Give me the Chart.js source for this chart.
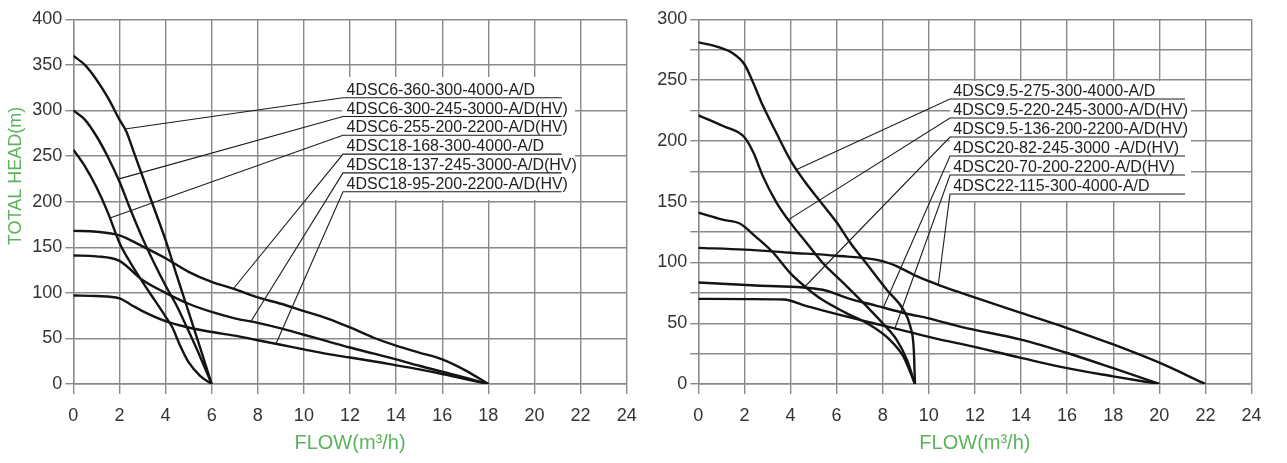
<!DOCTYPE html>
<html>
<head>
<meta charset="utf-8">
<script src="https://cdn.jsdelivr.net/npm/chart.js@4.4.1/dist/chart.umd.min.js"></script>
<style>
  html, body { margin: 0; padding: 0; background: #fff; }
  body { width: 1287px; height: 463px; position: relative; overflow: hidden; }
  .panel { position: absolute; top: 0; height: 463px; }
  #leftPanel { left: 0; width: 640px; }
  #rightPanel { left: 640px; width: 647px; }
</style>
</head>
<body>
<div class="panel" id="leftPanel"><canvas id="leftChart"></canvas></div>
<div class="panel" id="rightPanel"><canvas id="rightChart"></canvas></div>
<script>
// ---- data ----
const flowTicks = [0, 2, 4, 6, 8, 10, 12, 14, 16, 18, 20, 22, 24];
const leftHeadTicks = [0, 50, 100, 150, 200, 250, 300, 350, 400];
const rightHeadTicks = [0, 50, 100, 150, 200, 250, 300];

// left sheet: 4DSC6 / 4DSC18
const leftModels = [
    '4DSC6-360-300-4000-A/D',
    '4DSC6-300-245-3000-A/D(HV)',
    '4DSC6-255-200-2200-A/D(HV)',
    '4DSC18-168-300-4000-A/D',
    '4DSC18-137-245-3000-A/D(HV)',
    '4DSC18-95-200-2200-A/D(HV)'
];
const dsc6_360_q = [0, 0.5, 1, 1.5, 2, 2.3, 2.6, 3, 3.5, 4, 4.5, 5, 5.5, 6];
const dsc6_360_h = [360, 350, 334, 314, 290, 277, 256, 228, 193, 158, 118, 79, 40, 0];
const dsc6_300_q = [0, 0.5, 1, 1.5, 2, 2.5, 3, 3.5, 4, 4.5, 5, 5.5, 6];
const dsc6_300_h = [300, 290, 272, 249, 222, 190, 160, 133, 108, 85, 58, 30, 0];
const dsc6_255_q = [0, 0.5, 1, 1.5, 2, 2.5, 3, 3.5, 4, 4.3, 4.6, 5, 5.5, 6];
const dsc6_255_h = [257, 239, 216, 188, 155, 132, 112, 93, 74, 62, 44, 24, 9, 0];
const dsc18_168_q = [0, 1, 2, 3, 4, 5, 6, 7, 8, 9, 10, 11, 12, 13, 14, 15, 16, 17, 18];
const dsc18_168_h = [168, 167, 163, 151, 138, 123, 112, 104, 95, 88, 80, 72, 62, 51, 42, 34.5, 27, 15, 0];
const dsc18_137_q = [0, 1, 2, 3, 4, 5, 6, 7, 8, 9, 10, 11, 12, 13, 14, 15, 16, 17, 18];
const dsc18_137_h = [141, 140, 135, 114, 100, 88, 79, 72, 67, 61, 54, 47, 40, 33.5, 27, 20, 13.5, 7, 0];
const dsc18_95_q = [0, 1, 2, 2.5, 3, 4, 5, 6, 7, 8, 9, 10, 11, 12, 13, 14, 15, 16, 17, 18];
const dsc18_95_h = [97, 96.5, 94, 87, 80, 69, 62, 57, 53, 48, 43, 38, 33, 29, 25, 20.5, 16, 11, 5.5, 0];
const leftLeaderFlow = [2.24, 1.95, 1.59, 6.94, 7.7, 8.79];

// right sheet: 4DSC9.5 / 4DSC20 / 4DSC22
const rightModels = [
    '4DSC9.5-275-300-4000-A/D',
    '4DSC9.5-220-245-3000-A/D(HV)',
    '4DSC9.5-136-200-2200-A/D(HV)',
    '4DSC20-82-245-3000 -A/D(HV)',
    '4DSC20-70-200-2200-A/D(HV)',
    '4DSC22-115-300-4000-A/D'
];
const dsc95_275_q = [0, 0.8, 1.5, 2, 2.4, 2.8, 3.4, 4, 4.6, 5.3, 6, 6.6, 7.3, 8.2, 8.9, 9.2, 9.35, 9.4];
const dsc95_275_h = [281, 277.5, 272, 263, 247, 229, 206, 184, 167, 150, 133, 116, 99, 77, 61, 47, 28, 0];
const dsc95_220_q = [0, 1.1, 2, 2.4, 2.8, 3.4, 3.9, 4.7, 5.4, 6.3, 7.3, 8, 8.6, 9.05, 9.4];
const dsc95_220_h = [221, 212, 203, 190, 171, 149, 135, 116, 99.5, 83, 64, 50, 36.5, 20, 0];
const dsc95_136_q = [0, 1.1, 1.8, 2.5, 3.25, 4, 4.7, 5.4, 6.4, 7.45, 8.3, 8.9, 9.4];
const dsc95_136_h = [141, 135, 132, 121, 108, 91, 79, 69, 58.5, 48.5, 36.5, 22.5, 0];
const dsc20_82_q = [0, 2.5, 5.4, 6.5, 7.7, 9, 10, 11.4, 14, 16, 18, 20];
const dsc20_82_h = [83.5, 81, 77.5, 70.5, 64.5, 58, 54, 47, 36.5, 25.5, 13, 0];
const dsc20_70_q = [0, 3.7, 4.7, 6.1, 7.6, 9, 10.5, 11.4, 14, 16, 18, 20];
const dsc20_70_h = [70, 69.5, 64, 57, 50, 43.5, 36.5, 33, 21.5, 13, 6.3, 0];
const dsc22_115_q = [0, 2, 4, 6, 7.9, 8.6, 9.5, 10.5, 11.4, 14, 16, 18, 20, 22];
const dsc22_115_h = [112, 110.5, 108, 105.5, 101.5, 97, 88.5, 81, 75, 58.5, 46, 32.5, 17.5, 0];
const rightLeaderFlow = [4.27, 3.9, 4.63, 8.03, 8.53, 10.41];

// ---- helpers ----
const FONT = '"Liberation Sans", Arial, Helvetica, sans-serif';
const GRID = '#8a8a8a';
const GREEN = '#5db35d';
Chart.defaults.font.family = FONT;

function pts(q, h) { return q.map((v, i) => ({ x: v, y: h[i] })); }

function curve(label, q, h) {
    return {
        label,
        data: pts(q, h),
        borderColor: '#141414',
        borderWidth: 2.4,
        pointRadius: 0,
        cubicInterpolationMode: 'monotone',
        fill: false
    };
}

// linear lookup of head on a curve at a given flow
function headAt(data, q) {
    for (let i = 1; i < data.length; i++) {
        if (q <= data[i].x) {
            const a = data[i - 1], b = data[i];
            return a.y + (b.y - a.y) * (q - a.x) / (b.x - a.x);
        }
    }
    return data[data.length - 1].y;
}

// white label box, leader lines and model names
const modelLabels = {
    id: 'modelLabels',
    beforeDatasetsDraw(chart, args, o) {
        const ctx = chart.ctx;
        ctx.save();
        ctx.fillStyle = '#fff';
        ctx.fillRect(o.box[0], o.box[1], o.box[2] - o.box[0], o.box[3] - o.box[1]);
        ctx.restore();
    },
    afterDatasetsDraw(chart, args, o) {
        const { ctx, scales: { x, y } } = chart;
        ctx.save();
        ctx.strokeStyle = '#1c1c1c';
        ctx.lineWidth = 1.1;
        ctx.fillStyle = '#222';
        ctx.font = '16px ' + FONT;
        ctx.textBaseline = 'alphabetic';
        o.names.forEach((name, i) => {
            const ly = o.firstLine + i * o.rowStep;
            const data = chart.data.datasets[i].data;
            const q = o.leaderFlow[i];
            ctx.beginPath();
            ctx.moveTo(x.getPixelForValue(q), y.getPixelForValue(headAt(data, q)));
            ctx.lineTo(o.lineStart, ly);
            ctx.lineTo(o.lineEnd, ly);
            ctx.stroke();
            ctx.fillText(name, o.textX, ly - 3);
        });
        ctx.restore();
    }
};

// rotated y title (sits above the axis centre on the sheet)
const sideTitle = {
    id: 'sideTitle',
    afterDraw(chart, args, o) {
        if (!o.text) return;
        const ctx = chart.ctx;
        ctx.save();
        ctx.translate(o.x, o.y);
        ctx.rotate(-Math.PI / 2);
        ctx.fillStyle = GREEN;
        ctx.font = '18px ' + FONT;
        ctx.textAlign = 'center';
        ctx.textBaseline = 'middle';
        ctx.fillText(o.text, 0, 0);
        ctx.restore();
    }
};

function scalesFor(maxHead, headStep, headEvery, yWidth) {
    return {
        x: {
            type: 'linear', min: 0, max: 24,
            afterBuildTicks: s => { s.ticks = flowTicks.map(v => ({ value: v })); },
            ticks: { color: '#333', font: { size: 18 }, padding: 11, maxRotation: 0 },
            grid: { color: GRID, lineWidth: 1.4, tickLength: 10, tickColor: GRID },
            border: { color: GRID, width: 1.4 },
            title: { display: true, text: 'FLOW(m³/h)', color: GREEN, font: { size: 20 }, padding: { top: 0, bottom: 8 } },
            afterFit: s => { s.height = 79; s.paddingLeft = 0; s.paddingRight = 0; }
        },
        y: {
            type: 'linear', min: 0, max: maxHead,
            ticks: {
                stepSize: headStep, color: '#333', font: { size: 18 }, padding: 3,
                callback: v => (headEvery.includes(v) ? v : '')
            },
            grid: { color: GRID, lineWidth: 1.4, tickLength: 8, tickColor: GRID },
            border: { color: GRID, width: 1.4 },
            afterFit: s => { s.width = yWidth; s.paddingTop = 0; s.paddingBottom = 0; }
        }
    };
}

function makeChart(id, datasets, scales, padding, labelOpts, titleOpts) {
    return new Chart(document.getElementById(id), {
        type: 'line',
        data: { datasets },
        options: {
            responsive: true,
            maintainAspectRatio: false,
            animation: false,
            layout: { padding },
            scales,
            plugins: {
                legend: { display: false },
                tooltip: { enabled: false },
                modelLabels: labelOpts,
                sideTitle: titleOpts
            }
        },
        plugins: [modelLabels, sideTitle]
    });
}

makeChart('leftChart', [
    curve(leftModels[0], dsc6_360_q, dsc6_360_h),
    curve(leftModels[1], dsc6_300_q, dsc6_300_h),
    curve(leftModels[2], dsc6_255_q, dsc6_255_h),
    curve(leftModels[3], dsc18_168_q, dsc18_168_h),
    curve(leftModels[4], dsc18_137_q, dsc18_137_h),
    curve(leftModels[5], dsc18_95_q, dsc18_95_h)
], scalesFor(400, 50, leftHeadTicks, 73.3),
    { top: 19.3, right: 13.3, bottom: 0, left: 0 },
    { names: leftModels, leaderFlow: leftLeaderFlow, box: [342, 77, 575, 200],
      textX: 346.5, lineStart: 343, lineEnd: 561.7, firstLine: 97.7, rowStep: 18.8 },
    { text: 'TOTAL HEAD(m)', x: 16.5, y: 176 });

makeChart('rightChart', [
    curve(rightModels[0], dsc95_275_q, dsc95_275_h),
    curve(rightModels[1], dsc95_220_q, dsc95_220_h),
    curve(rightModels[2], dsc95_136_q, dsc95_136_h),
    curve(rightModels[3], dsc20_82_q, dsc20_82_h),
    curve(rightModels[4], dsc20_70_q, dsc20_70_h),
    curve(rightModels[5], dsc22_115_q, dsc22_115_h)
], scalesFor(300, 25, rightHeadTicks, 58.3),
    { top: 19.3, right: 35.5, bottom: 0, left: 0 },
    { names: rightModels, leaderFlow: rightLeaderFlow, box: [310, 81, 551, 201],
      textX: 313.3, lineStart: 310, lineEnd: 545, firstLine: 99, rowStep: 19 },
    { text: '' });
</script>
</body>
</html>
